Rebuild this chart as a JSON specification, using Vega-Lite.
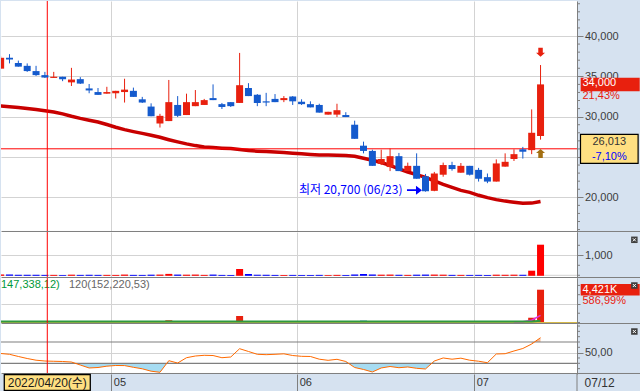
{
"$schema": "https://vega.github.io/schema/vega-lite/v6.json",
"background": "#d6e2f0",
"padding": 0,
"spacing": 0,
"bounds": "flush",
"resolve": {"scale": {"x": "independent", "y": "independent"}},
"config": {
  "view": {"fill": "#ffffff", "stroke": null},
  "axis": {"labelFont": "Liberation Sans", "labelFontSize": 11, "labelColor": "#3c3c3c", "tickColor": "#7f7f7f", "domainColor": "#7f7f7f", "gridColor": "#d3d3d3", "gridWidth": 1, "tickWidth": 1, "domainWidth": 1},
  "text": {"font": "Liberation Sans"}
},
"datasets": {
  "days": [
    {"i":-5,"d":"04/13","o":35950,"h":37500,"l":35900,"c":37300,"ma":31320,"tv":40,"vol":110,"v60":149,"rsi":48.4},
    {"i":-4,"d":"04/14","o":37300,"h":37750,"l":36600,"c":37100,"ma":31233,"tv":35,"vol":95,"v60":149,"rsi":46.9},
    {"i":-3,"d":"04/15","o":36650,"h":36950,"l":36200,"c":36200,"ma":31147,"tv":25,"vol":70,"v60":148,"rsi":42.8},
    {"i":-2,"d":"04/18","o":36300,"h":36600,"l":35550,"c":35650,"ma":31010,"tv":25,"vol":70,"v60":148,"rsi":39.0},
    {"i":-1,"d":"04/19","o":35650,"h":36300,"l":35050,"c":35150,"ma":30874,"tv":25,"vol":72,"v60":148,"rsi":35.8},
    {"i":0,"d":"04/20","o":35150,"h":35550,"l":34800,"c":34850,"ma":30725,"tv":20,"vol":58,"v60":147,"rsi":34.3},
    {"i":1,"d":"04/21","o":34800,"h":35550,"l":34800,"c":34950,"ma":30577,"tv":20,"vol":57,"v60":147,"rsi":33.8},
    {"i":2,"d":"04/22","o":34950,"h":34950,"l":34400,"c":34650,"ma":30341,"tv":15,"vol":45,"v60":146,"rsi":33.4},
    {"i":3,"d":"04/25","o":34250,"h":36050,"l":33800,"c":34600,"ma":30043,"tv":30,"vol":88,"v60":146,"rsi":32.4},
    {"i":4,"d":"04/26","o":34650,"h":34900,"l":34050,"c":34100,"ma":29783,"tv":20,"vol":60,"v60":145,"rsi":26.8},
    {"i":5,"d":"04/27","o":33500,"h":34050,"l":32900,"c":33250,"ma":29560,"tv":25,"vol":75,"v60":144,"rsi":21.2},
    {"i":6,"d":"04/28","o":33050,"h":33550,"l":32700,"c":32700,"ma":29337,"tv":20,"vol":60,"v60":143,"rsi":22.1},
    {"i":7,"d":"04/29","o":32850,"h":33700,"l":32850,"c":33050,"ma":29027,"tv":20,"vol":60,"v60":142,"rsi":24.6},
    {"i":8,"d":"05/02","o":32900,"h":33200,"l":32250,"c":33200,"ma":28692,"tv":18,"vol":55,"v60":140,"rsi":25.9},
    {"i":9,"d":"05/03","o":33050,"h":34700,"l":31750,"c":33350,"ma":28394,"tv":35,"vol":105,"v60":139,"rsi":25.7},
    {"i":10,"d":"05/04","o":33200,"h":33600,"l":32450,"c":32450,"ma":28146,"tv":20,"vol":62,"v60":138,"rsi":22.5},
    {"i":11,"d":"05/06","o":32150,"h":32450,"l":31700,"c":31750,"ma":27923,"tv":18,"vol":56,"v60":136,"rsi":19.7},
    {"i":12,"d":"05/09","o":31250,"h":31650,"l":30050,"c":30050,"ma":27700,"tv":30,"vol":98,"v60":135,"rsi":15.2},
    {"i":13,"d":"05/10","o":29150,"h":30350,"l":28650,"c":30100,"ma":27440,"tv":35,"vol":120,"v60":134,"rsi":13.1},
    {"i":14,"d":"05/11","o":29450,"h":34550,"l":29450,"c":31800,"ma":27142,"tv":70,"vol":300,"v60":137,"rsi":34.9},
    {"i":15,"d":"05/12","o":31450,"h":32550,"l":29950,"c":30100,"ma":26869,"tv":35,"vol":115,"v60":137,"rsi":30.5},
    {"i":16,"d":"05/13","o":30200,"h":32850,"l":30200,"c":31800,"ma":26621,"tv":30,"vol":95,"v60":136,"rsi":40.5},
    {"i":17,"d":"05/16","o":31300,"h":33300,"l":31300,"c":31800,"ma":26410,"tv":35,"vol":110,"v60":136,"rsi":43.7},
    {"i":18,"d":"05/17","o":31450,"h":32200,"l":31450,"c":32050,"ma":26249,"tv":20,"vol":62,"v60":135,"rsi":45.0},
    {"i":19,"d":"05/18","o":32300,"h":34000,"l":32050,"c":32050,"ma":26162,"tv":35,"vol":105,"v60":135,"rsi":44.6},
    {"i":20,"d":"05/19","o":31550,"h":31700,"l":30950,"c":31200,"ma":26088,"tv":18,"vol":58,"v60":134,"rsi":40.5},
    {"i":21,"d":"05/20","o":31800,"h":31800,"l":31200,"c":31300,"ma":26038,"tv":15,"vol":48,"v60":133,"rsi":41.8},
    {"i":22,"d":"05/23","o":31700,"h":37900,"l":31700,"c":33900,"ma":25914,"tv":315,"vol":880,"v60":146,"rsi":57.4},
    {"i":23,"d":"05/24","o":33550,"h":34150,"l":32550,"c":32550,"ma":25790,"tv":65,"vol":200,"v60":148,"rsi":52.2},
    {"i":24,"d":"05/25","o":32700,"h":32800,"l":31300,"c":31700,"ma":25716,"tv":30,"vol":95,"v60":147,"rsi":46.9},
    {"i":25,"d":"05/26","o":31900,"h":32950,"l":31300,"c":31750,"ma":25666,"tv":25,"vol":80,"v60":146,"rsi":46.2},
    {"i":26,"d":"05/27","o":32200,"h":32800,"l":31800,"c":31800,"ma":25604,"tv":18,"vol":55,"v60":145,"rsi":46.9},
    {"i":27,"d":"05/30","o":32050,"h":32550,"l":31800,"c":32300,"ma":25542,"tv":15,"vol":48,"v60":144,"rsi":47.8},
    {"i":28,"d":"05/31","o":32500,"h":32550,"l":31450,"c":31900,"ma":25468,"tv":18,"vol":57,"v60":143,"rsi":44.6},
    {"i":29,"d":"06/02","o":31850,"h":32150,"l":31450,"c":31550,"ma":25406,"tv":15,"vol":48,"v60":142,"rsi":43.1},
    {"i":30,"d":"06/03","o":31550,"h":31900,"l":31150,"c":31150,"ma":25319,"tv":15,"vol":47,"v60":141,"rsi":42.8},
    {"i":31,"d":"06/07","o":31450,"h":31600,"l":30500,"c":30500,"ma":25245,"tv":20,"vol":65,"v60":140,"rsi":37.7},
    {"i":32,"d":"06/08","o":30250,"h":30600,"l":30250,"c":30600,"ma":25245,"tv":12,"vol":40,"v60":139,"rsi":35.6},
    {"i":33,"d":"06/09","o":30250,"h":31600,"l":29950,"c":30800,"ma":25220,"tv":20,"vol":66,"v60":138,"rsi":37.5},
    {"i":34,"d":"06/10","o":30200,"h":30550,"l":29950,"c":29950,"ma":25183,"tv":15,"vol":50,"v60":137,"rsi":33.4},
    {"i":35,"d":"06/13","o":29000,"h":29500,"l":27250,"c":27250,"ma":25084,"tv":40,"vol":145,"v60":138,"rsi":22.1},
    {"i":36,"d":"06/14","o":26400,"h":26900,"l":25450,"c":25750,"ma":24836,"tv":65,"vol":250,"v60":140,"rsi":18.4},
    {"i":37,"d":"06/15","o":25750,"h":25900,"l":23900,"c":23900,"ma":24600,"tv":40,"vol":165,"v60":141,"rsi":13.7},
    {"i":38,"d":"06/16","o":24150,"h":25900,"l":24000,"c":24750,"ma":24315,"tv":30,"vol":125,"v60":141,"rsi":21.2},
    {"i":39,"d":"06/17","o":23750,"h":26050,"l":23250,"c":25100,"ma":23968,"tv":35,"vol":140,"v60":142,"rsi":24.0},
    {"i":40,"d":"06/20","o":25100,"h":25500,"l":23250,"c":23250,"ma":23534,"tv":25,"vol":105,"v60":142,"rsi":21.7},
    {"i":41,"d":"06/21","o":23250,"h":24300,"l":23250,"c":23900,"ma":23137,"tv":20,"vol":85,"v60":142,"rsi":23.1},
    {"i":42,"d":"06/22","o":23900,"h":25450,"l":22300,"c":22300,"ma":22815,"tv":30,"vol":130,"v60":143,"rsi":20.6},
    {"i":43,"d":"06/23","o":22600,"h":22900,"l":20700,"c":20750,"ma":22468,"tv":35,"vol":165,"v60":144,"rsi":19.3},
    {"i":44,"d":"06/24","o":20800,"h":23150,"l":20750,"c":22950,"ma":22034,"tv":35,"vol":160,"v60":145,"rsi":34.3},
    {"i":45,"d":"06/27","o":22800,"h":24300,"l":22550,"c":24000,"ma":21600,"tv":30,"vol":125,"v60":145,"rsi":40.0},
    {"i":46,"d":"06/28","o":24000,"h":24400,"l":23300,"c":23500,"ma":21240,"tv":20,"vol":85,"v60":145,"rsi":37.7},
    {"i":47,"d":"06/29","o":23050,"h":24250,"l":23050,"c":23900,"ma":20856,"tv":20,"vol":82,"v60":144,"rsi":39.6},
    {"i":48,"d":"06/30","o":23900,"h":23900,"l":22700,"c":22800,"ma":20607,"tv":18,"vol":78,"v60":144,"rsi":35.8},
    {"i":49,"d":"07/01","o":23400,"h":23650,"l":21950,"c":22300,"ma":20248,"tv":20,"vol":90,"v60":143,"rsi":33.9},
    {"i":50,"d":"07/04","o":22500,"h":22950,"l":21750,"c":21950,"ma":19962,"tv":15,"vol":68,"v60":142,"rsi":31.1},
    {"i":51,"d":"07/05","o":21950,"h":24700,"l":21950,"c":24200,"ma":19714,"tv":30,"vol":130,"v60":142,"rsi":47.5},
    {"i":52,"d":"07/06","o":23800,"h":25450,"l":23800,"c":24400,"ma":19528,"tv":25,"vol":105,"v60":142,"rsi":48.0},
    {"i":53,"d":"07/07","o":24750,"h":25950,"l":24500,"c":25350,"ma":19380,"tv":30,"vol":120,"v60":142,"rsi":53.1,"m5":105},
    {"i":54,"d":"07/08","o":25950,"h":26250,"l":24800,"c":25650,"ma":19256,"tv":25,"vol":100,"v60":142,"rsi":57.8,"m5":115},
    {"i":55,"d":"07/11","o":25850,"h":30900,"l":25350,"c":28000,"ma":19281,"tv":230,"vol":643,"v60":150,"rsi":66.2,"m5":300},
    {"i":56,"d":"07/12","o":27600,"h":36400,"l":27150,"c":34000,"ma":19490,"tv":1530,"vol":4421,"v60":220,"rsi":78.1,"m5":970}
  ],
  "cross": [{"i": 0.27, "price": 26013, "p": "26,013", "chg": "-7,10%", "date": "2022/04/20(수)"}]
},
"vconcat": [
  {
    "width": 576, "height": 231,
    "layer": [
      {
        "data": {"name": "days"},
        "mark": {"type": "line", "color": "#c80000", "strokeWidth": 3.5, "clip": true},
        "encoding": {
          "x": {"field": "i", "type": "quantitative", "scale": {"domain": [-4.96, 60.12], "nice": false, "zero": false, "padding": 0},
                "axis": {"values": [7.5, 28.5, 48.5], "grid": true, "labels": false, "ticks": false, "domain": false, "title": null, "minExtent": 0, "maxExtent": 0}},
          "y": {"field": "ma", "type": "quantitative", "scale": {"domain": [15697, 44340], "nice": false, "zero": false},
                "axis": {"orient": "right", "title": null, "values": [20000, 25000, 30000, 35000, 40000],
                  "grid": true, "tickSize": 6, "format": ",d", "domain": true,
                  "labelExpr": "datum.value === 25000 ? '' : datum.label",
                  "labelPadding": 1.5, "labelAlign": "left", "labelBaseline": "middle", "labelOverlap": false, "labelFlush": false,
                  "minExtent": 64, "maxExtent": 64}}
        }
      },
      {
        "data": {"values": [{"lv":16000},{"lv":17000},{"lv":18000},{"lv":19000},{"lv":21000},{"lv":22000},{"lv":23000},{"lv":24000},{"lv":26000},{"lv":27000},{"lv":28000},{"lv":29000},{"lv":31000},{"lv":32000},{"lv":33000},{"lv":34000},{"lv":36000},{"lv":37000},{"lv":38000},{"lv":39000},{"lv":41000},{"lv":42000},{"lv":43000},{"lv":44000}]},
        "mark": {"type": "tick", "orient": "horizontal", "size": 3, "thickness": 1, "color": "#7f7f7f", "xOffset": 1.5, "opacity": 1},
        "encoding": {"x": {"datum": 60.12, "type": "quantitative"}, "y": {"field": "lv", "type": "quantitative"}}
      },
      {
        "data": {"name": "cross"},
        "mark": {"type": "rule", "color": "#ff0000", "strokeWidth": 1},
        "encoding": {"y": {"field": "price", "type": "quantitative"}}
      },
      {
        "data": {"name": "cross"},
        "mark": {"type": "rule", "color": "#ff0000", "strokeWidth": 1},
        "encoding": {"x": {"field": "i", "type": "quantitative"}}
      },
      {
        "data": {"name": "days"},
        "mark": {"type": "rule", "strokeWidth": 1, "clip": true},
        "encoding": {
          "x": {"field": "i", "type": "quantitative"},
          "y": {"field": "l", "type": "quantitative"},
          "y2": {"field": "h"},
          "color": {"condition": {"test": "datum.c >= datum.o", "value": "#e8200e"}, "value": "#145acd"}
        }
      },
      {
        "data": {"name": "days"},
        "mark": {"type": "bar", "width": 7, "clip": true},
        "encoding": {
          "x": {"field": "i", "type": "quantitative"},
          "y": {"field": "o", "type": "quantitative"},
          "y2": {"field": "c"},
          "color": {"condition": {"test": "datum.c >= datum.o", "value": "#e8200e"}, "value": "#145acd"}
        }
      },
      {
        "data": {"values": [{"i": 43, "price": 20700, "t": "최저 20,700 (06/23)"}]},
        "encoding": {
          "x": {"field": "i", "type": "quantitative"},
          "y": {"field": "price", "type": "quantitative"}
        },
        "layer": [
          {"mark": {"type": "text", "align": "right", "baseline": "middle", "dx": -23, "dy": -2, "font": "Noto Sans CJK KR", "fontSize": 12, "color": "#0000ff"},
           "encoding": {"text": {"field": "t"}}},
          {"mark": {"type": "point", "shape": "M-1,-0.11L0.2,-0.11L0.2,-0.6L1,0L0.2,0.6L0.2,0.11L-1,0.11Z", "size": 225, "filled": true, "opacity": 1, "color": "#0000ff", "strokeWidth": 0, "xOffset": -11, "yOffset": -1.5}}
        ]
      },
      {
        "data": {"name": "days"},
        "transform": [{"filter": "datum.i === 56"}],
        "layer": [
          {"mark": {"type": "point", "shape": "M-0.5,-1L0.5,-1L0.5,0.1L1,0.1L0,1L-1,0.1L-0.5,0.1Z", "size": 81, "filled": true, "opacity": 1, "color": "#e8200e", "strokeWidth": 0, "yOffset": -12.8},
           "encoding": {"x": {"field": "i", "type": "quantitative"}, "y": {"field": "h", "type": "quantitative"}}},
          {"mark": {"type": "point", "shape": "M-0.5,1L0.5,1L0.5,-0.1L1,-0.1L0,-1L-1,-0.1L-0.5,-0.1Z", "size": 81, "filled": true, "opacity": 1, "color": "#a36f12", "strokeWidth": 0, "yOffset": 13.9},
           "encoding": {"x": {"field": "i", "type": "quantitative"}, "y": {"field": "l", "type": "quantitative"}}}
        ]
      },
      {
        "data": {"values": [{"price": 34000, "t": "34,000", "chg": "21,43%"}]},
        "encoding": {"y": {"field": "price", "type": "quantitative"}},
        "layer": [
          {"mark": {"type": "rect", "width": 59, "height": 13.5, "color": "#e8200e"},
           "encoding": {"x": {"datum": 63.87, "type": "quantitative"}}},
          {"mark": {"type": "text", "align": "left", "baseline": "middle", "dy": -1, "fontSize": 11, "color": "#ffffff"},
           "encoding": {"x": {"datum": 60.74, "type": "quantitative"}, "text": {"field": "t"}}},
          {"mark": {"type": "text", "align": "left", "baseline": "middle", "dy": 12, "fontSize": 11, "color": "#e8200e"},
           "encoding": {"x": {"datum": 60.74, "type": "quantitative"}, "text": {"field": "chg"}}}
        ]
      },
      {
        "data": {"name": "cross"},
        "encoding": {"y": {"field": "price", "type": "quantitative"}},
        "layer": [
          {"mark": {"type": "rect", "width": 57.6, "height": 29, "fill": "#ffe082", "stroke": "#000000", "strokeWidth": 1.2},
           "encoding": {"x": {"datum": 63.77, "type": "quantitative"}}},
          {"mark": {"type": "text", "align": "center", "baseline": "middle", "dy": -7.3, "fontSize": 11, "color": "#333333"},
           "encoding": {"x": {"datum": 63.77, "type": "quantitative"}, "text": {"field": "p"}}},
          {"mark": {"type": "text", "align": "center", "baseline": "middle", "dy": 7.7, "fontSize": 11, "color": "#0000ff"},
           "encoding": {"x": {"datum": 63.77, "type": "quantitative"}, "text": {"field": "chg"}}}
        ]
      },
      {
        "data": {"values": [{}]},
        "mark": {"type": "rule", "color": "#7f7f7f", "strokeWidth": 1},
        "encoding": {
          "x": {"datum": -4.9, "type": "quantitative"},
          "x2": {"datum": 67.3},
          "y": {"datum": 15760, "type": "quantitative"}
        }
      }
    ]
  },
  {
    "width": 576, "height": 46,
    "layer": [
      {
        "data": {"values": [{"g": 0}]},
        "mark": {"type": "rule", "color": "#d3d3d3", "strokeWidth": 1},
        "encoding": {
          "x": {"datum": -4.96, "type": "quantitative", "scale": {"domain": [-4.96, 60.12], "nice": false, "zero": false, "padding": 0},
                "axis": {"values": [7.5, 28.5, 48.5], "grid": true, "labels": false, "ticks": false, "domain": false, "title": null, "minExtent": 0, "maxExtent": 0}},
          "x2": {"datum": 60.12},
          "y": {"field": "g", "type": "quantitative", "scale": {"domain": [-135, 2165], "nice": false, "zero": false},
                "axis": {"orient": "right", "title": null, "values": [1000],
                  "grid": true, "tickSize": 6, "format": ",d", "domain": true,
                  "labelPadding": 1.5, "labelAlign": "left", "labelBaseline": "middle", "labelOverlap": false, "labelFlush": false,
                  "minExtent": 64, "maxExtent": 64}}
        }
      },
      {
        "data": {"values": [{"lv": 0}, {"lv": 500}, {"lv": 1500}]},
        "mark": {"type": "tick", "orient": "horizontal", "size": 3, "thickness": 1, "color": "#7f7f7f", "xOffset": 1.5, "opacity": 1},
        "encoding": {"x": {"datum": 60.12, "type": "quantitative"}, "y": {"field": "lv", "type": "quantitative"}}
      },
      {
        "data": {"name": "days"},
        "mark": {"type": "bar", "width": 7, "clip": true},
        "encoding": {
          "x": {"field": "i", "type": "quantitative"},
          "y": {"field": "tv", "type": "quantitative"},
          "y2": {"datum": -25},
          "color": {"condition": {"test": "datum.c >= datum.o", "value": "#ff0000"}, "value": "#0000ff"}
        }
      },
      {
        "data": {"name": "cross"},
        "mark": {"type": "rule", "color": "#ff0000", "strokeWidth": 1},
        "encoding": {"x": {"field": "i", "type": "quantitative"}}
      },
      {
        "data": {"values": [{}]},
        "encoding": {"x": {"datum": 66.6, "type": "quantitative"}, "y": {"datum": 1775, "type": "quantitative"}},
        "layer": [
          {"mark": {"type": "point", "shape": "square", "size": 42, "filled": true, "opacity": 1, "color": "#404040"}},
          {"mark": {"type": "point", "shape": "M-1,-1L1,1M1,-1L-1,1", "size": 9, "filled": false, "opacity": 1, "color": "#ffffff", "strokeWidth": 1}}
        ]
      },
      {
        "data": {"values": [{}]},
        "mark": {"type": "rule", "color": "#7f7f7f", "strokeWidth": 1},
        "encoding": {
          "x": {"datum": -4.9, "type": "quantitative"},
          "x2": {"datum": 67.3},
          "y": {"datum": -110, "type": "quantitative"}
        }
      }
    ]
  },
  {
    "width": 576, "height": 46,
    "layer": [
      {
        "data": {"name": "days"},
        "mark": {"type": "bar", "width": 7, "clip": true},
        "encoding": {
          "x": {"field": "i", "type": "quantitative", "scale": {"domain": [-4.96, 60.12], "nice": false, "zero": false, "padding": 0},
                "axis": {"values": [7.5, 28.5, 48.5], "grid": true, "labels": false, "ticks": false, "domain": false, "title": null, "minExtent": 0, "maxExtent": 0}},
          "y": {"field": "vol", "type": "quantitative", "scale": {"domain": [-202, 5998], "nice": false, "zero": false},
                "axis": {"orient": "right", "title": null, "values": [2500],
                  "grid": true, "tickSize": 3, "labels": false, "domain": true,
                  "minExtent": 64, "maxExtent": 64}},
          "y2": {"datum": -70},
          "color": {"condition": {"test": "datum.c >= datum.o", "value": "#e8200e"}, "value": "#145acd"}
        }
      },
      {
        "data": {"values": [{"lv": 0}, {"lv": 1250}, {"lv": 3750}, {"lv": 5000}]},
        "mark": {"type": "tick", "orient": "horizontal", "size": 3, "thickness": 1, "color": "#7f7f7f", "xOffset": 1.5, "opacity": 1},
        "encoding": {"x": {"datum": 60.12, "type": "quantitative"}, "y": {"field": "lv", "type": "quantitative"}}
      },
      {
        "data": {"values": [{"g": 0}]},
        "mark": {"type": "rule", "color": "#d4b84a", "strokeWidth": 1},
        "encoding": {"y": {"field": "g", "type": "quantitative"}}
      },
      {
        "data": {"name": "days"},
        "transform": [{"filter": "isValid(datum.m5)"}],
        "mark": {"type": "line", "color": "#e030e0", "strokeWidth": 1.5, "clip": true},
        "encoding": {
          "x": {"field": "i", "type": "quantitative"},
          "y": {"field": "m5", "type": "quantitative"}
        }
      },
      {
        "data": {"name": "days"},
        "mark": {"type": "line", "color": "#2e9a3e", "strokeWidth": 2, "clip": true},
        "encoding": {
          "x": {"field": "i", "type": "quantitative"},
          "y": {"field": "v60", "type": "quantitative"}
        }
      },
      {
        "data": {"values": [{"t": "147,338,12)"}]},
        "mark": {"type": "text", "align": "left", "baseline": "middle", "fontSize": 11, "color": "#00993a"},
        "encoding": {"x": {"datum": -4.96, "type": "quantitative"}, "y": {"datum": 5120, "type": "quantitative"}, "text": {"field": "t"}}
      },
      {
        "data": {"values": [{"t": "120(152,220,53)"}]},
        "mark": {"type": "text", "align": "left", "baseline": "middle", "fontSize": 11, "color": "#666666"},
        "encoding": {"x": {"datum": 2.72, "type": "quantitative"}, "y": {"datum": 5120, "type": "quantitative"}, "text": {"field": "t"}}
      },
      {
        "data": {"name": "cross"},
        "mark": {"type": "rule", "color": "#ff0000", "strokeWidth": 1},
        "encoding": {"x": {"field": "i", "type": "quantitative"}}
      },
      {
        "data": {"values": [{"vol": 4421, "t": "4,421K", "chg": "586,99%"}]},
        "encoding": {"y": {"field": "vol", "type": "quantitative"}},
        "layer": [
          {"mark": {"type": "rect", "width": 59, "height": 11.6, "color": "#e8200e"},
           "encoding": {"x": {"datum": 63.87, "type": "quantitative"}}},
          {"mark": {"type": "text", "align": "left", "baseline": "middle", "fontSize": 11, "color": "#ffffff"},
           "encoding": {"x": {"datum": 60.74, "type": "quantitative"}, "text": {"field": "t"}}},
          {"mark": {"type": "text", "align": "left", "baseline": "middle", "dy": 11, "fontSize": 11, "color": "#e8200e"},
           "encoding": {"x": {"datum": 60.74, "type": "quantitative"}, "text": {"field": "chg"}}}
        ]
      },
      {
        "data": {"values": [{}]},
        "encoding": {"x": {"datum": 66.6, "type": "quantitative"}, "y": {"datum": 4987, "type": "quantitative"}},
        "layer": [
          {"mark": {"type": "point", "shape": "square", "size": 42, "filled": true, "opacity": 1, "color": "#404040"}},
          {"mark": {"type": "point", "shape": "M-1,-1L1,1M1,-1L-1,1", "size": 9, "filled": false, "opacity": 1, "color": "#ffffff", "strokeWidth": 1}}
        ]
      },
      {
        "data": {"values": [{}]},
        "mark": {"type": "rule", "color": "#7f7f7f", "strokeWidth": 1},
        "encoding": {
          "x": {"datum": -4.9, "type": "quantitative"},
          "x2": {"datum": 67.3},
          "y": {"datum": -135, "type": "quantitative"}
        }
      }
    ]
  },
  {
    "width": 576, "height": 50,
    "layer": [
      {
        "data": {"name": "days"},
        "transform": [{"filter": "datum.i >= 3 && datum.i <= 14"}],
        "mark": {"type": "area", "color": "#a6dcf2", "opacity": 1},
        "encoding": {
          "x": {"field": "i", "type": "quantitative", "scale": {"domain": [-4.96, 60.12], "nice": false, "zero": false, "padding": 0},
                "axis": {"values": [7.5, 28.5, 48.5], "grid": true, "title": null, "domain": false, "ticks": true, "tickSize": 18,
                  "labelExpr": "datum.value < 10 ? '05' : (datum.value < 30 ? '06' : '07')",
                  "labelAlign": "left", "labelBaseline": "middle", "labelOffset": 2, "labelPadding": -10, "labelFontSize": 11, "labelColor": "#333333",
                  "labelFlush": false, "labelOverlap": false, "minExtent": 18, "maxExtent": 18}},
          "y": {"field": "rsi", "type": "quantitative", "scale": {"domain": [9.9, 103.8], "nice": false, "zero": false},
                "axis": {"orient": "right", "title": null, "values": [50],
                  "grid": true, "tickSize": 6, "labelExpr": "'50,00'", "domain": true,
                  "labelPadding": 1.5, "labelAlign": "left", "labelBaseline": "middle", "labelOverlap": false, "labelFlush": false,
                  "minExtent": 64, "maxExtent": 64}},
          "y2": {"datum": 30}
        }
      },
      {
        "data": {"values": [{"lv": 20}, {"lv": 30}, {"lv": 40}, {"lv": 60}, {"lv": 70}, {"lv": 80}, {"lv": 90}, {"lv": 100}]},
        "mark": {"type": "tick", "orient": "horizontal", "size": 3, "thickness": 1, "color": "#7f7f7f", "xOffset": 1.5, "opacity": 1},
        "encoding": {"x": {"datum": 60.12, "type": "quantitative"}, "y": {"field": "lv", "type": "quantitative"}}
      },
      {
        "data": {"name": "days"},
        "transform": [{"filter": "datum.i >= 34 && datum.i <= 44"}],
        "mark": {"type": "area", "color": "#a6dcf2", "opacity": 1},
        "encoding": {
          "x": {"field": "i", "type": "quantitative"},
          "y": {"field": "rsi", "type": "quantitative"},
          "y2": {"datum": 30}
        }
      },
      {
        "data": {"name": "days"},
        "transform": [{"filter": "datum.i >= 55"}],
        "mark": {"type": "area", "color": "#f8bf9c", "opacity": 1},
        "encoding": {
          "x": {"field": "i", "type": "quantitative"},
          "y": {"field": "rsi", "type": "quantitative"},
          "y2": {"datum": 70}
        }
      },
      {
        "data": {"values": [{"lv": 30}, {"lv": 70}]},
        "mark": {"type": "rule", "color": "#7f7f7f", "strokeWidth": 1.2},
        "encoding": {"y": {"field": "lv", "type": "quantitative"}}
      },
      {
        "data": {"name": "days"},
        "mark": {"type": "line", "color": "#ff6a00", "strokeWidth": 1, "clip": true},
        "encoding": {
          "x": {"field": "i", "type": "quantitative"},
          "y": {"field": "rsi", "type": "quantitative"}
        }
      },
      {
        "data": {"name": "cross"},
        "mark": {"type": "rule", "color": "#ff0000", "strokeWidth": 1},
        "encoding": {"x": {"field": "i", "type": "quantitative"}}
      },
      {
        "data": {"values": [{}]},
        "encoding": {"x": {"datum": 66.6, "type": "quantitative"}, "y": {"datum": 89.7, "type": "quantitative"}},
        "layer": [
          {"mark": {"type": "point", "shape": "square", "size": 42, "filled": true, "opacity": 1, "color": "#404040"}},
          {"mark": {"type": "point", "shape": "M-1,-1L1,1M1,-1L-1,1", "size": 9, "filled": false, "opacity": 1, "color": "#ffffff", "strokeWidth": 1}}
        ]
      },
      {
        "data": {"values": [{}]},
        "mark": {"type": "rule", "color": "#7f7f7f", "strokeWidth": 1},
        "encoding": {
          "x": {"datum": -4.9, "type": "quantitative"},
          "x2": {"datum": 67.3},
          "y": {"datum": 10.84, "type": "quantitative"}
        }
      },
      {
        "data": {"values": [{}]},
        "mark": {"type": "rule", "color": "#7f7f7f", "strokeWidth": 1},
        "encoding": {
          "x": {"datum": 60.12, "type": "quantitative"},
          "y": {"datum": 9.9, "type": "quantitative"},
          "y2": {"datum": -23.9}
        }
      },
      {
        "data": {"values": [{"t": "07/12"}]},
        "mark": {"type": "text", "align": "left", "baseline": "middle", "fontSize": 12, "color": "#333333"},
        "encoding": {"x": {"datum": 60.98, "type": "quantitative"}, "y": {"datum": -6.1, "type": "quantitative"}, "text": {"field": "t"}}
      },
      {
        "data": {"name": "cross"},
        "encoding": {"x": {"field": "i", "type": "quantitative"}, "y": {"datum": -6.1, "type": "quantitative"}},
        "layer": [
          {"mark": {"type": "rect", "width": 86, "height": 16, "fill": "#ffe082", "stroke": "#000000", "strokeWidth": 1.3}},
          {"mark": {"type": "text", "align": "center", "baseline": "middle", "font": "Liberation Sans, Noto Sans CJK KR", "fontSize": 12, "color": "#1a1a1a"},
           "encoding": {"text": {"field": "date"}}}
        ]
      }
    ]
  }
]
}
